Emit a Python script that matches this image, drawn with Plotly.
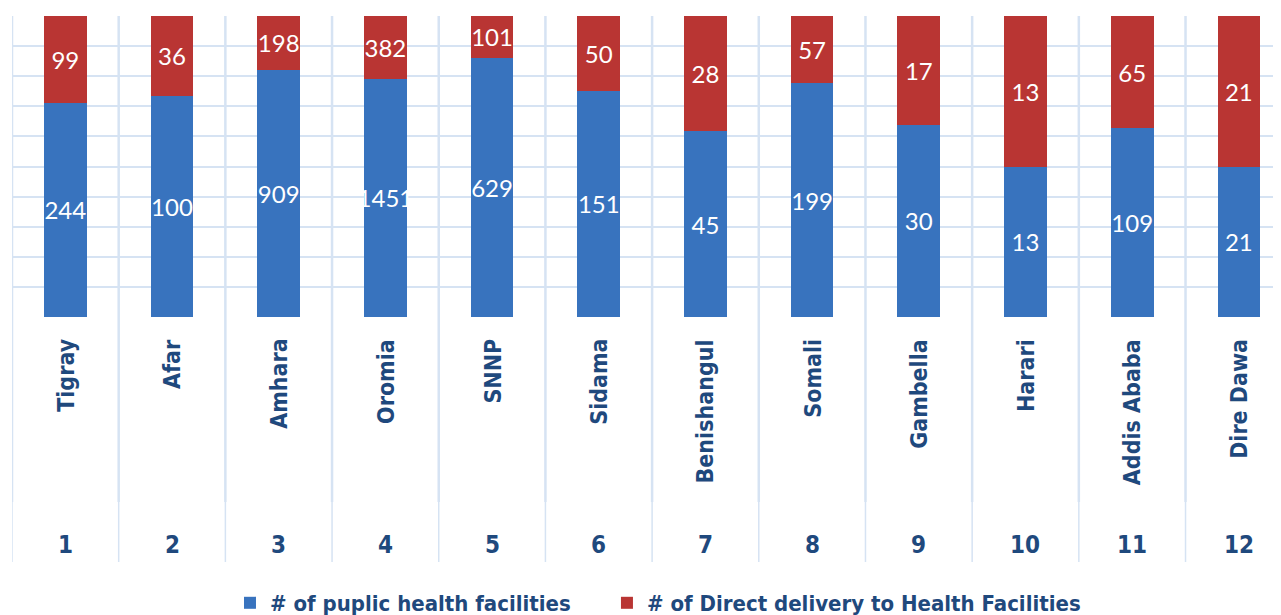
import plotly.graph_objects as go

regions = ["Tigray", "Afar", "Amhara", "Oromia", "SNNP", "Sidama", "Benishangul",
           "Somali", "Gambella", "Harari", "Addis Ababa", "Dire Dawa"]
numbers = ["1", "2", "3", "4", "5", "6", "7", "8", "9", "10", "11", "12"]
public_facilities = [244, 100, 909, 1451, 629, 151, 45, 199, 30, 13, 109, 21]
direct_delivery = [99, 36, 198, 382, 101, 50, 28, 57, 17, 13, 65, 21]

BLUE = "#3873be"
RED = "#b93533"
LABEL = "#1F497D"
GRID = "#d6e3f3"
NARROW = "Liberation Sans Narrow, Arial Narrow, DejaVu Sans Condensed, sans-serif"

xs = list(range(len(regions)))

fig = go.Figure()
fig.add_trace(go.Bar(
    x=xs, y=public_facilities, name="# of puplic health facilities",
    marker=dict(color=BLUE, line=dict(width=0)),
    text=public_facilities, texttemplate="%{text}", textposition="inside",
    insidetextanchor="middle", textangle=0,
    textfont=dict(family="Lato, Carlito, sans-serif", size=24, color="white"),
    width=0.4, hoverinfo="skip", legend="legend"))
fig.add_trace(go.Bar(
    x=xs, y=direct_delivery, name="# of Direct delivery to Health Facilities",
    marker=dict(color=RED, line=dict(width=0)),
    text=direct_delivery, texttemplate="%{text}", textposition="inside",
    insidetextanchor="middle", textangle=0,
    textfont=dict(family="Lato, Carlito, sans-serif", size=24, color="white"),
    width=0.4, hoverinfo="skip", legend="legend2"))

H_PLOT = 301.0
def py(pix_below_bottom):
    return -pix_below_bottom / H_PLOT

shapes = []
for i in range(len(regions) + 1):
    xb = i - 0.5
    shapes.append(dict(type="line", xref="x", yref="paper", x0=xb, x1=xb, y0=1, y1=py(185),
                       line=dict(color=GRID, width=2.5), layer="below"))
    shapes.append(dict(type="line", xref="x", yref="paper", x0=xb, x1=xb, y0=py(185), y1=py(245),
                       line=dict(color=GRID, width=1.5), layer="below"))

annotations = []
for i, (r, n) in enumerate(zip(regions, numbers)):
    annotations.append(dict(x=i, y=py(20), xref="x", yref="paper", text=r, textangle=-90,
                            showarrow=False, xanchor="center", yanchor="top",
                            font=dict(family=NARROW, size=23, color=LABEL, weight="bold")))
    annotations.append(dict(x=i, y=py(228), xref="x", yref="paper", text=n,
                            showarrow=False, xanchor="center", yanchor="middle",
                            font=dict(family=NARROW, size=24, color=LABEL, weight="bold")))

legend_common = dict(orientation="h", xanchor="left", y=py(286), yanchor="middle",
                     font=dict(family=NARROW, size=22, color=LABEL, weight="bold"),
                     itemwidth=30, bgcolor="rgba(0,0,0,0)")

fig.update_layout(
    width=1281, height=615,
    margin=dict(l=4, r=0, t=8, b=306, autoexpand=False),
    paper_bgcolor="white", plot_bgcolor="white",
    barmode="stack", barnorm="percent",
    showlegend=True,
    legend=dict(x=0.1707, **legend_common),
    legend2=dict(x=0.4659, **legend_common),
    xaxis=dict(range=[-0.5, 11.47], showticklabels=False, showgrid=False, zeroline=False,
               showline=False, ticks=""),
    yaxis=dict(range=[0, 100], dtick=10, showticklabels=False, showgrid=True,
               gridcolor=GRID, gridwidth=2, zeroline=False, showline=False, ticks=""),
    shapes=shapes, annotations=annotations,
    uniformtext=dict(mode=False),
)
fig.update_traces(constraintext="none")

fig.write_html("out.html")
